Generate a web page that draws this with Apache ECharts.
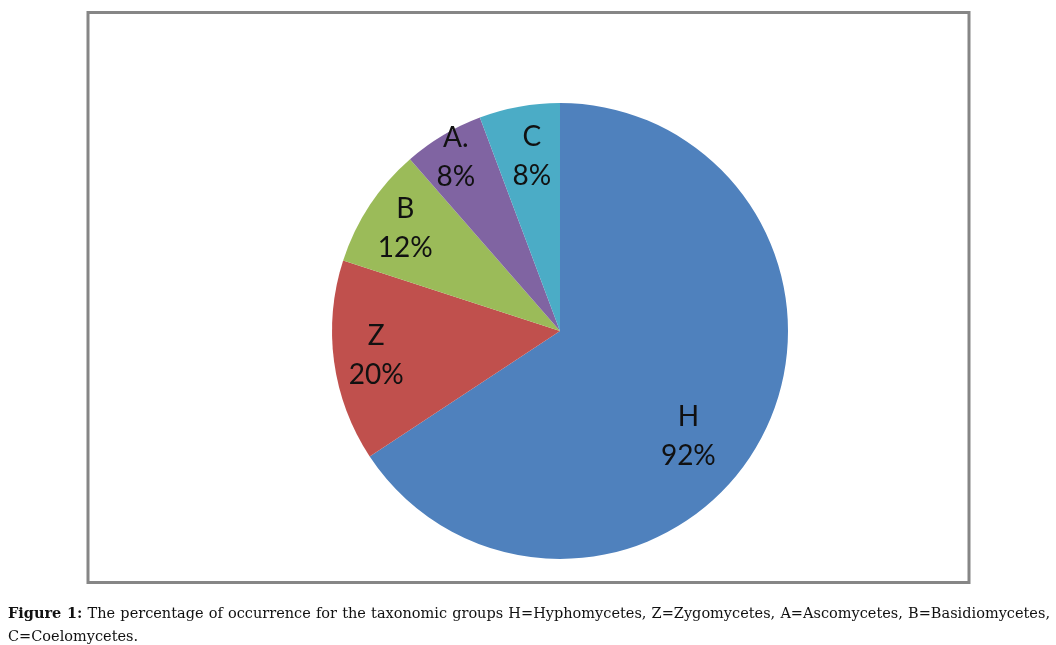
<!DOCTYPE html>
<html>
<head>
<meta charset="utf-8">
<script src="https://cdn.jsdelivr.net/npm/echarts@6/dist/echarts.min.js"></script>
<style>
  html, body { margin: 0; padding: 0; background: #fff; }
  #main { position: absolute; left: 0; top: 0; width: 1056px; height: 645px; }
  #caption {
    position: absolute; left: 8px; top: 601px; width: 1042px;
    font-family: "DejaVu Serif", "Liberation Serif", serif;
    font-size: 14.5px; line-height: 23px; color: #111;
  }
  #caption .l1 { text-align: justify; text-align-last: justify; white-space: nowrap; }
</style>
</head>
<body>
<div id="main"></div>
<div id="caption">
  <div class="l1"><b>Figure 1:</b> The percentage of occurrence for the taxonomic groups H=Hyphomycetes, Z=Zygomycetes, A=Ascomycetes, B=Basidiomycetes,</div>
  <div>C=Coelomycetes.</div>
</div>
<script>
// groups, clockwise from 12 o'clock
const groups = ['H', 'Z', 'B', 'A.', 'C'];
const percents = [92, 20, 12, 8, 8];
const colors = ['#4F81BD', '#C0504D', '#9BBB59', '#8064A2', '#4BACC6'];

const chart = echarts.init(document.getElementById('main'));

const pieData = groups.map((g, i) => ({ name: g, value: percents[i] }));

chart.setOption({
  animation: false,
  graphic: [{
    type: 'rect',
    shape: { x: 88, y: 12.5, width: 881, height: 570 },
    style: { fill: 'none', stroke: '#868686', lineWidth: 3 },
    silent: true
  }],
  series: [
    {
      // visible slices
      type: 'pie',
      center: [560, 331],
      radius: 228,
      startAngle: 90,
      clockwise: true,
      silent: true,
      label: { show: false },
      labelLine: { show: false },
      itemStyle: {
        color: (p) => colors[p.dataIndex]
      },
      data: pieData
    },
    {
      // transparent ring just to place the labels further out
      type: 'pie',
      center: [560, 331],
      radius: [137, 228],
      startAngle: 90,
      clockwise: true,
      silent: true,
      itemStyle: { color: 'transparent' },
      label: {
        show: true,
        position: 'inside',
        formatter: '{b}\n{c}%',
        fontFamily: 'Lato, Liberation Sans, Arial, sans-serif',
        fontSize: 28,
        lineHeight: 39,
        color: '#111'
      },
      labelLine: { show: false },
      labelLayout: (p) => {
        if (p.dataIndex === 0) return { dx: -35, dy: 18 };
        if (p.dataIndex === 3) return { dx: -9, dy: -14 };
        if (p.dataIndex === 4) return { dx: 5, dy: 8 };
        return {};
      },
      data: pieData
    }
  ]
});
</script>
</body>
</html>
